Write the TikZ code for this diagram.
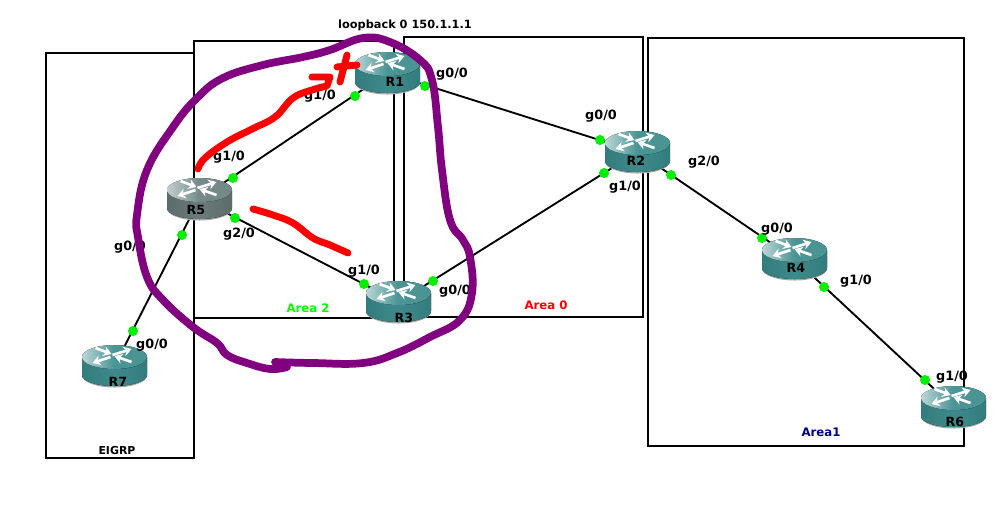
\documentclass[tikz,border=0pt]{standalone}
\usepackage{fontspec}
\setmainfont{DejaVu Sans}
\usetikzlibrary{arrows.meta}
\pgfdeclarelayer{back}
\pgfsetlayers{back,main}
\definecolor{inkpurple}{HTML}{800080}
\definecolor{inkred}{HTML}{FF0000}
\definecolor{dotgreen}{HTML}{00F000}
\definecolor{areagreen}{HTML}{00FF00}
\definecolor{areablue}{HTML}{000080}
\definecolor{tealbody}{HTML}{3E8A8B}
\definecolor{tealedge}{HTML}{337C7D}
\definecolor{teallight}{HTML}{BBD6D6}
\definecolor{tealtop}{HTML}{4A9494}
\definecolor{greybody}{HTML}{6B7B7A}
\definecolor{greyedge}{HTML}{5C6C6B}
\definecolor{greylight}{HTML}{C2CECE}
\definecolor{greytop}{HTML}{748A88}
\newcommand{\routericon}[4]{%
  \begin{scope}[shift={(path picture bounding box.center)}]
    \fill[black!35] (0,9.5) ellipse [x radius=32.5,y radius=12];
    \fill[left color=#1,right color=#1,middle color=#2]
      (-32.5,-9) -- (-32.5,9) arc [start angle=180,end angle=0,x radius=32.5,y radius=11] -- (32.5,-9) -- cycle;
    \fill[left color=#3,right color=#4,middle color=#4] (0,-9) ellipse [x radius=32.5,y radius=12];
    \draw[crossarrow] (-19,-18) -- (-3,-12);
    \draw[crossarrow] (-2,-11) -- (17,-17);
    \draw[crossarrow] (-4,-9) -- (-22,-3);
    \draw[crossarrow] (17,-4) -- (0,-10);
  \end{scope}}
\tikzset{
  crossarrow/.style={draw=white,line width=2pt,-{Stealth[length=6pt,width=7.5pt]}},
  routerbox/.style={minimum width=50pt,minimum height=34pt,inner sep=0pt,
    path picture={\routericon{tealedge}{tealbody}{teallight}{tealtop}}},
  greyrouterbox/.style={minimum width=50pt,minimum height=34pt,inner sep=0pt,
    path picture={\routericon{greyedge}{greybody}{greylight}{greytop}}},
  areabox/.style={draw=black,line width=1.5pt},
  linkline/.style={draw=black,line width=1.4pt},
  portdot/.style={circle,fill=dotgreen,minimum size=7.5pt,inner sep=0pt},
  portlabel/.style={font=\bfseries\fontsize{9.6}{11}\selectfont,inner sep=0pt},
  routerlabel/.style={font=\bfseries\fontsize{9.5}{10}\selectfont,inner sep=0pt},
  arealabel/.style={font=\bfseries\fontsize{8.8}{10}\selectfont,inner sep=0pt},
  purpleink/.style={draw=inkpurple,line width=5.8pt,line cap=round,line join=round},
  redink/.style={draw=inkred,line width=5.2pt,line cap=round,line join=round}
}
\begin{document}
\begin{tikzpicture}[x=0.75pt,y=-0.75pt]
  \useasboundingbox (0,0) rectangle (1006,519);
  \node[greyrouterbox] (R5) at (199.5,199) {};
  \node[routerbox] (R1) at (387.5,73) {};
  \node[routerbox] (R3) at (398.5,302) {};
  \node[routerbox] (R2) at (637.5,152) {};
  \node[routerbox] (R4) at (794.5,259) {};
  \node[routerbox] (R7) at (114.5,366) {};
  \node[routerbox] (R6) at (953.5,407) {};
  \begin{pgfonlayer}{back}
    \fill[white] (0,0) rectangle (1006,519);
    \draw[areabox] (46,53) rectangle (194,458);
    \draw[areabox] (194,41) rectangle (394,318);
    \draw[areabox] (404,37) rectangle (643,317);
    \draw[areabox] (648,38) rectangle (964,446);
    \draw[linkline] (R5.center) to (R1.center);
    \draw[linkline] (R5.center) to (R3.center);
    \draw[linkline] (R5.center) to (R7.center);
    \draw[linkline] (R1.center) to (R2.center);
    \draw[linkline] (R3.center) to (R2.center);
    \draw[linkline] (R2.center) to (R4.center);
    \draw[linkline] (R4.center) to (R6.center);
  \end{pgfonlayer}
  \node[portdot] (dotR5a) at (233,178) {};
  \node[portdot] (dotR1a) at (355,96) {};
  \node[portdot] (dotR5b) at (235,218) {};
  \node[portdot] (dotR3a) at (364,284) {};
  \node[portdot] (dotR5c) at (182,235) {};
  \node[portdot] (dotR7a) at (133,331) {};
  \node[portdot] (dotR1b) at (425,86) {};
  \node[portdot] (dotR2a) at (600,140) {};
  \node[portdot] (dotR3b) at (433,281) {};
  \node[portdot] (dotR2b) at (604,173) {};
  \node[portdot] (dotR2c) at (671,175) {};
  \node[portdot] (dotR4a) at (762,238) {};
  \node[portdot] (dotR4b) at (824,287) {};
  \node[portdot] (dotR6a) at (925,380) {};
  \node[routerlabel] (nameR1) at (395,82) {R1};
  \node[routerlabel] (nameR2) at (636,161) {R2};
  \node[routerlabel] (nameR3) at (404,318) {R3};
  \node[routerlabel] (nameR4) at (796,268) {R4};
  \node[routerlabel] (nameR5) at (196,210) {R5};
  \node[routerlabel] (nameR6) at (955,422) {R6};
  \node[routerlabel] (nameR7) at (118,382) {R7};
  \node[portlabel] (portR1a) at (320,96) {g1/0};
  \node[portlabel] (portR1b) at (452,74) {g0/0};
  \node[portlabel] (portR5a) at (229,157) {g1/0};
  \node[portlabel] (portR5b) at (239,234) {g2/0};
  \node[portlabel] (portR5c) at (130,247) {g0/0};
  \node[portlabel] (portR7a) at (152,345) {g0/0};
  \node[portlabel] (portR3a) at (364,271) {g1/0};
  \node[portlabel] (portR3b) at (455,291) {g0/0};
  \node[portlabel] (portR2a) at (601,116) {g0/0};
  \node[portlabel] (portR2b) at (625,187) {g1/0};
  \node[portlabel] (portR2c) at (704,162) {g2/0};
  \node[portlabel] (portR4a) at (777,229) {g0/0};
  \node[portlabel] (portR4b) at (856,281) {g1/0};
  \node[portlabel] (portR6a) at (952,377) {g1/0};
  \node[portlabel,font=\bfseries\fontsize{8.5}{10}\selectfont] (loopback) at (405,25) {loopback 0 150.1.1.1};
  \node[arealabel,text=areagreen] (areatwo) at (308,308) {Area 2};
  \node[arealabel,text=inkred] (areazero) at (546,305) {Area 0};
  \node[arealabel,text=areablue] (areaone) at (821,432) {Area1};
  \node[arealabel,font=\bfseries\fontsize{8.2}{10}\selectfont] (eigrp) at (117,451) {EIGRP};
  \draw[purpleink] plot[smooth,tension=0.7] coordinates {
    (287,367) (270,369) (247,363) (227,355) (217,343) (193,327) (163,300)
    (147,277) (138,237) (137,215) (147,170) (173,127) (197,98) (223,78)
    (263,65) (303,57) (330,50) (363,38) (390,42) (420,60) (432,80)
    (438,127) (442,170) (450,220) (463,240) (470,257) (472,293) (460,320)
    (430,337) (397,353) (363,363) (313,363) (275,362)};
  \draw[redink] plot[smooth,tension=0.7] coordinates {
    (198,169) (205,158) (227,142) (252,129) (275,117) (293,98) (312,90) (327,86)}
    -- (330,77) -- (312,77);
  \draw[redink] (337,67) -- (357,65);
  \draw[redink] (347,55) -- (340,82);
  \draw[redink] plot[smooth,tension=0.7] coordinates {
    (253,209) (273,215) (293,223) (313,238) (330,245) (348,253)};
\end{tikzpicture}
\end{document}
